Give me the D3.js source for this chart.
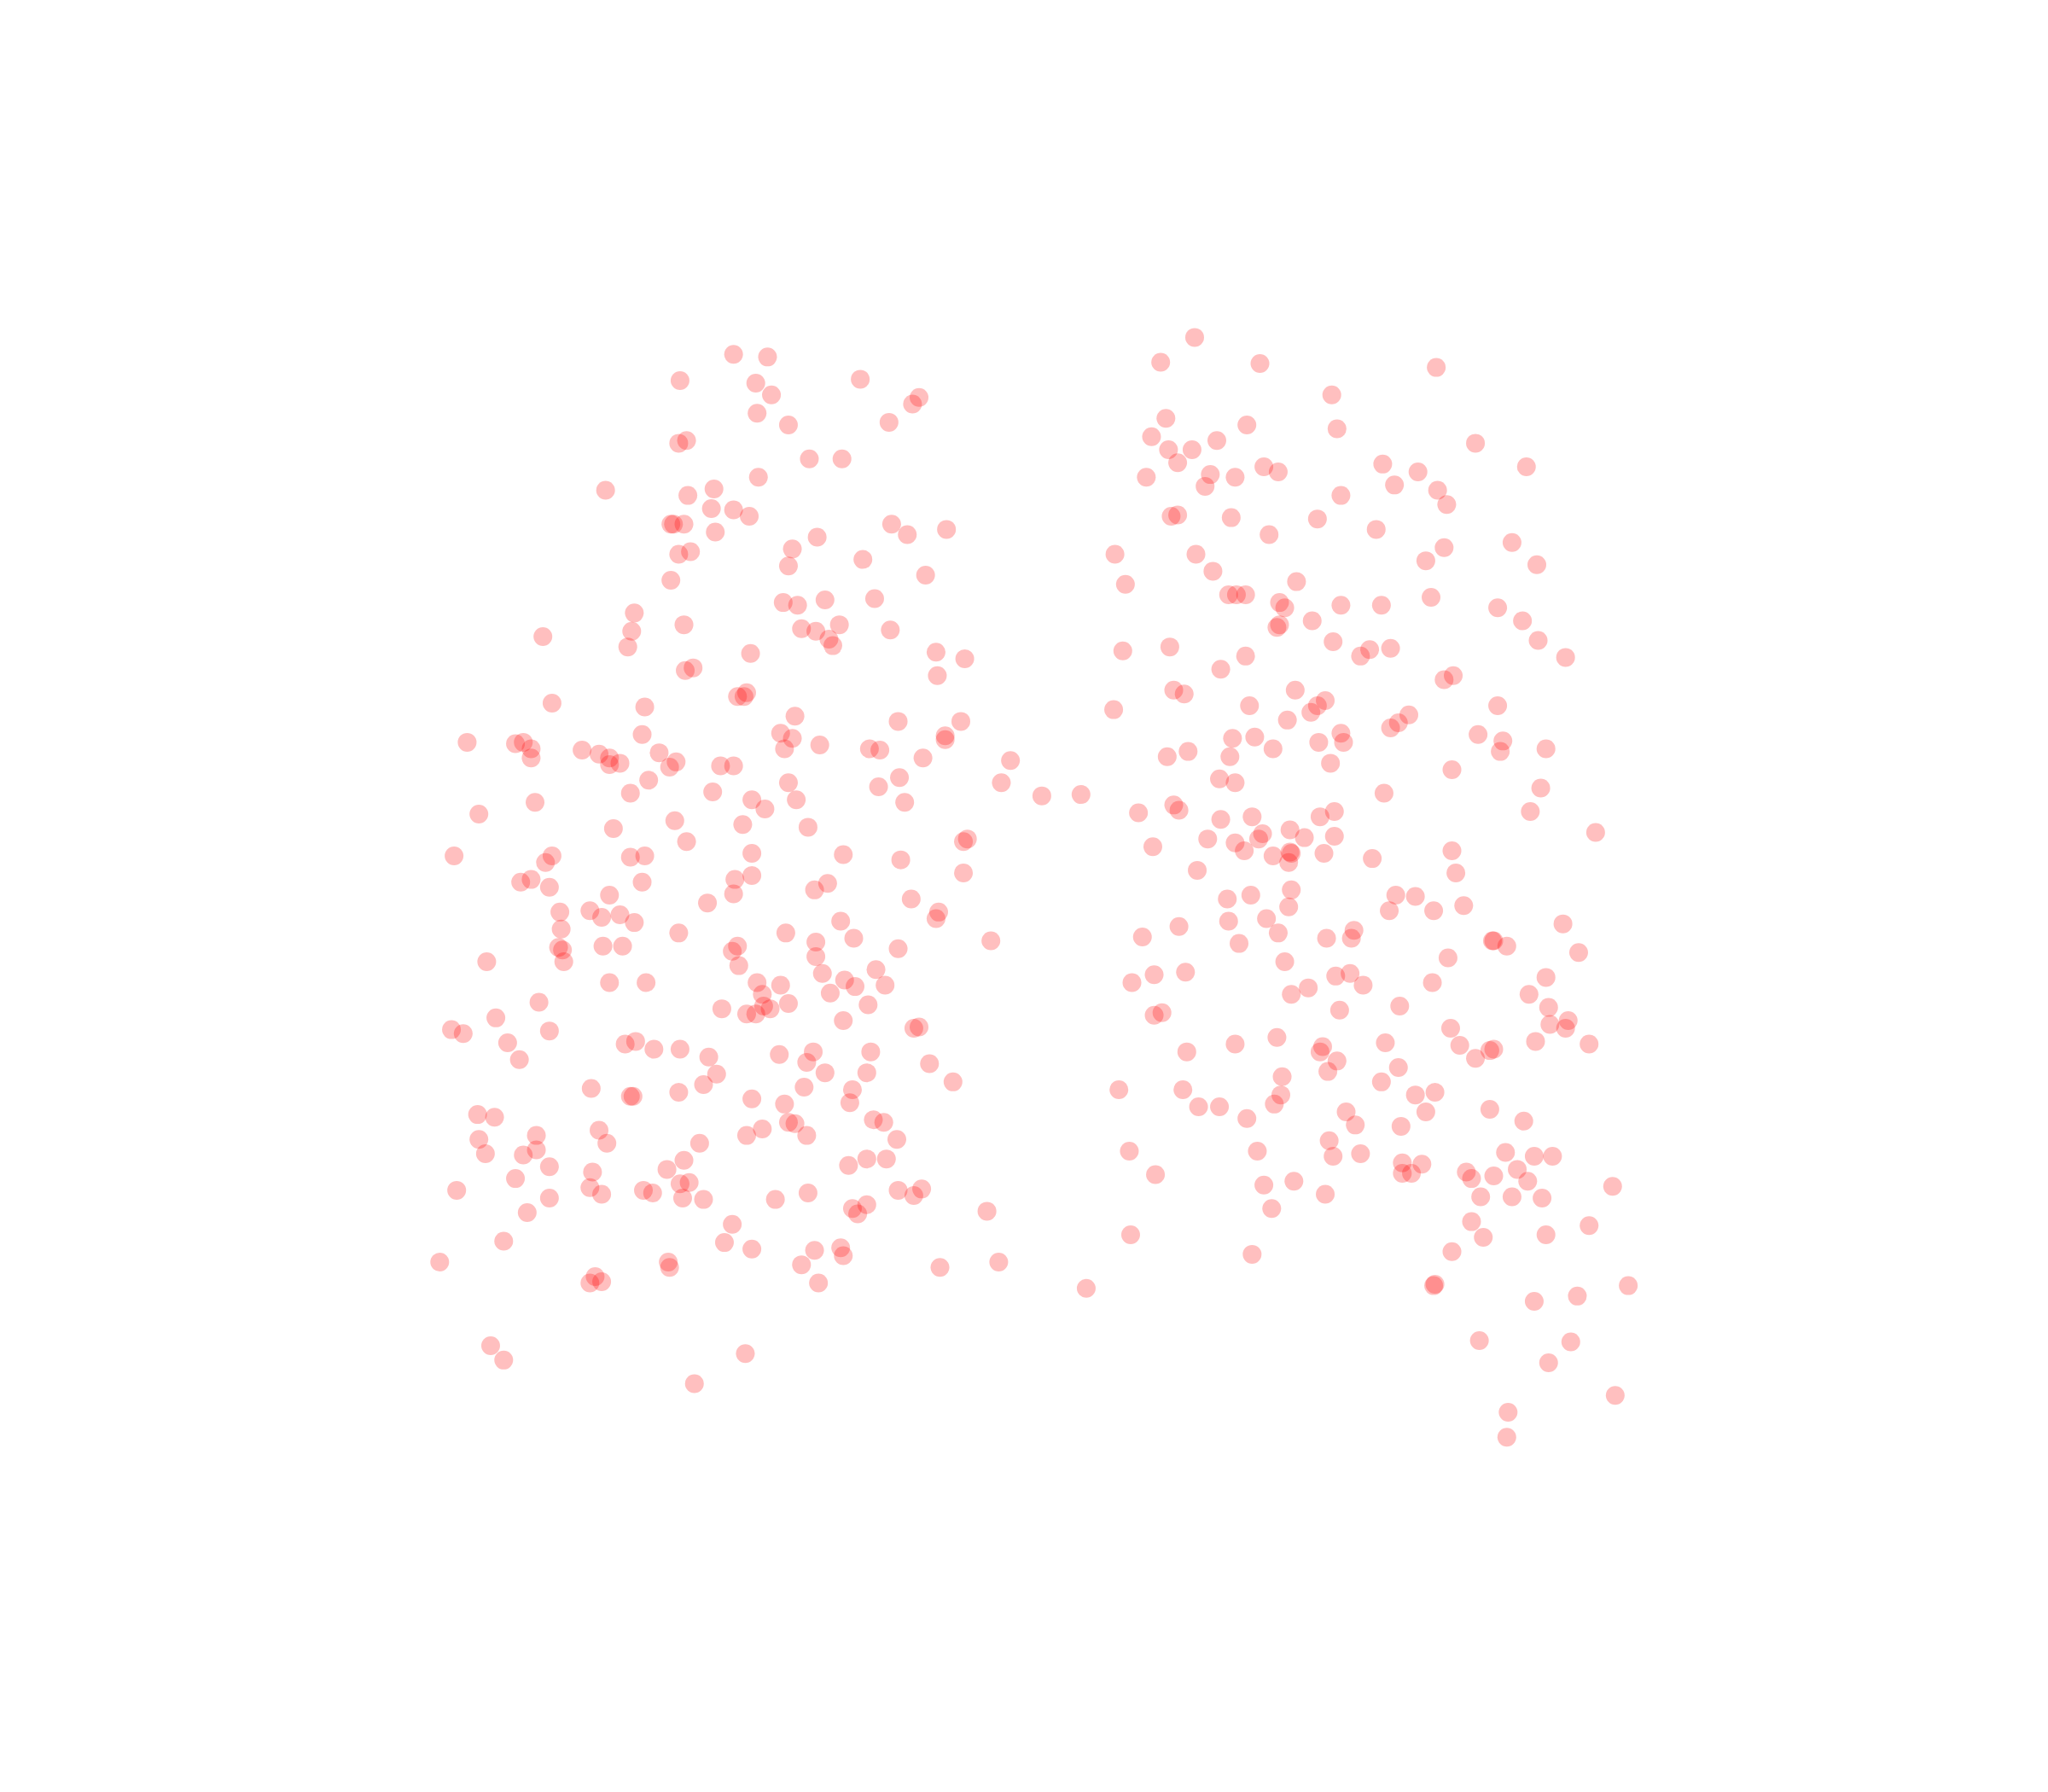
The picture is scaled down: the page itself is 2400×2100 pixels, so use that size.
<!DOCTYPE html>
<html>
<head>
<meta charset="utf-8">
<script src="https://cdn.jsdelivr.net/npm/d3@7"></script>
<style>
  html, body { margin: 0; padding: 0; background: #fff; }
  svg { display: block; }
</style>
</head>
<body>
<div id="chart"></div>
<script>
// values, in its own 1568 x 1372 units
const leftCluster = [
  [561,271],[587,273],[520,291],[578,293],[590,302],[658,290],[703,304],[698,309],[579,316],[603,325],
  [680,323],[519,339],[525,337],[619,351],[644,351],[580,365],[463,375],[526,379],[546,374],[544,389],
  [561,390],[573,395],[513,401],[515,401],[523,401],[547,407],[682,401],[694,409],[724,405],[625,411],
  [606,420],[519,424],[528,422],[603,433],[660,428],[513,444],[708,440],[599,461],[610,463],[631,459],
  [669,458],[485,469],[483,483],[523,478],[613,481],[624,483],[642,478],[634,489],[637,494],[681,482],
  [415,487],[480,495],[574,500],[716,499],[738,504],[524,513],[530,511],[717,517],[564,533],[569,533],
  [571,530],[422,538],[493,541],[608,548],[687,552],[735,552],[597,561],[606,565],[723,563],[723,566],
  [491,562],[357,568],[394,569],[400,568],[406,573],[406,580],[445,574],[458,577],[466,580],[466,585],
  [474,584],[504,576],[517,583],[512,587],[551,586],[561,586],[600,573],[627,570],[665,573],[673,574],
  [706,580],[773,582],[766,599],[797,609],[827,608],[496,597],[482,607],[545,606],[603,599],[609,612],
  [575,612],[585,619],[672,602],[688,595],[692,614],[409,614],[366,623],[516,628],[568,631],[469,634],
  [618,633],[525,644],[737,644],[740,642],[347,655],[417,660],[422,655],[482,656],[493,655],[575,653],
  [645,654],[689,658],[398,675],[406,673],[420,679],[491,675],[562,673],[575,670],[633,676],[623,681],
  [737,668],[466,685],[561,684],[541,691],[697,688],[428,698],[451,697],[460,702],[474,700],[485,706],
  [718,698],[716,703],[643,705],[429,711],[519,714],[601,714],[653,718],[758,720],[427,725],[430,727],
  [431,736],[461,724],[476,724],[564,724],[560,728],[624,721],[624,732],[687,726],[372,736],[565,739],
  [629,745],[670,742],[466,752],[494,752],[579,752],[597,754],[646,750],[654,755],[677,754],[583,761],
  [635,760],[412,767],[552,772],[584,770],[589,772],[603,768],[664,769],[571,776],[578,776],[379,779],
  [645,781],[345,788],[354,791],[420,789],[699,787],[703,786],[388,798],[478,799],[486,797],[500,803],
  [520,803],[397,811],[542,809],[596,807],[622,805],[617,813],[666,805],[711,814],[548,822],[631,821],
  [663,821],[729,828],[538,830],[452,833],[482,839],[484,839],[519,836],[615,832],[652,834],[575,841],
  [600,845],[650,844],[365,853],[378,855],[603,859],[608,860],[668,857],[676,859],[458,865],[410,869],
  [583,864],[571,869],[617,869],[366,872],[464,875],[535,875],[686,872],[371,883],[400,884],[410,880],
  [523,888],[663,887],[678,887],[649,892],[420,893],[510,895],[453,897],[394,902],[527,905],[520,906],
  [451,909],[349,911],[492,911],[499,913],[460,914],[420,917],[522,917],[538,918],[593,918],[618,913],
  [687,911],[699,915],[705,910],[403,928],[652,925],[663,922],[656,929],[755,927],[560,937],[385,950],
  [554,951],[575,956],[623,957],[643,955],[645,961],[336,966],[511,966],[512,970],[613,968],[719,970],
  [764,966],[451,982],[455,977],[460,981],[626,982],[831,986],[375,1030],[385,1041],[570,1036],[531,1059]
]

const rightCluster = [
  [914,258],[888,277],[964,278],[1099,281],[1019,302],[892,320],[954,325],[1023,328],[881,334],[931,337],
  [894,344],[912,344],[1129,339],[901,354],[967,357],[978,361],[1058,355],[1168,357],[926,363],[877,365],
  [945,365],[922,372],[1085,361],[1067,371],[1100,375],[1026,379],[1107,386],[896,395],[901,394],[942,396],
  [1008,397],[971,409],[1053,405],[1157,415],[1105,419],[853,424],[915,424],[1091,429],[1176,432],[928,437],
  [861,447],[992,445],[940,455],[946,455],[953,455],[1095,457],[979,461],[983,465],[1026,463],[1057,463],
  [1146,465],[1004,475],[979,478],[977,480],[1165,475],[1020,491],[1177,490],[895,495],[859,498],[953,502],
  [1048,497],[1041,502],[1064,496],[1198,503],[934,512],[1105,520],[1112,517],[898,528],[906,531],[991,528],
  [1014,536],[1008,540],[1003,545],[956,540],[852,543],[1146,540],[985,551],[1078,547],[1070,553],[1064,557],
  [943,565],[960,564],[1026,561],[1028,568],[1009,568],[1131,562],[1150,567],[1148,575],[1183,573],[974,573],
  [909,575],[893,579],[941,579],[1018,584],[1111,589],[933,596],[945,599],[1179,603],[1059,607],[898,616],
  [902,620],[871,622],[934,627],[958,625],[1010,625],[1021,621],[1171,621],[987,635],[966,638],[963,642],
  [924,642],[945,645],[952,651],[998,641],[1021,640],[1221,637],[882,648],[974,655],[987,652],[988,653],
  [986,660],[1013,653],[1050,657],[1111,651],[916,666],[1114,668],[988,681],[939,688],[957,685],[1068,685],
  [1083,686],[986,694],[1063,697],[1097,697],[1120,693],[940,705],[969,703],[902,709],[1196,707],[1036,712],
  [978,714],[874,717],[1015,718],[1034,718],[948,722],[1142,720],[1143,720],[1153,724],[1208,729],[1108,733],
  [983,736],[907,744],[883,746],[866,752],[1022,747],[1033,745],[1043,754],[1096,752],[1183,748],[1001,756],
  [988,761],[1170,761],[1071,770],[1025,773],[1185,771],[889,775],[883,777],[1200,781],[1186,784],[1198,787],
  [1110,787],[977,794],[945,799],[1060,798],[1117,800],[1175,797],[1216,799],[908,805],[1012,801],[1010,805],
  [1143,803],[1140,804],[1129,810],[1023,812],[1016,820],[1070,817],[981,824],[1057,828],[856,834],[905,834],
  [980,838],[1083,838],[1098,836],[975,845],[917,847],[933,847],[1140,849],[1091,851],[1030,851],[954,856],
  [1037,861],[1072,862],[1166,858],[1017,873],[864,881],[962,881],[1041,883],[1020,885],[1152,882],[1174,885],
  [1188,885],[1073,890],[1088,891],[1073,898],[1080,898],[1161,895],[1122,897],[1126,902],[1143,900],[884,899],
  [990,904],[967,907],[1169,904],[1234,908],[1014,914],[1133,916],[1157,916],[1180,917],[973,925],[1126,935],
  [1216,938],[865,945],[1135,947],[1183,945],[958,960],[1111,958],[1098,983],[1097,984],[1246,984],[1207,992],
  [1174,996],[1132,1026],[1202,1027],[1185,1043],[1236,1068],[1154,1081],[1153,1100]
]

const WIDTH = 2400
const HEIGHT = 2100

const x = d3.scaleLinear().domain([0, 1568]).range([1, WIDTH + 1])
const y = d3.scaleLinear().domain([0, 1372]).range([0.5, HEIGHT + 0.5])

const svg = d3.select('#chart').append('svg')
                               .attr('width', WIDTH)
                               .attr('height', HEIGHT)

svg.append('g')
   .selectAll('circle')
   .data(leftCluster.concat(rightCluster))
   .enter()
     .append('circle')
     .attr('cx', d => x(d[0]))
     .attr('cy', d => y(d[1]))
     .attr('r', 11)
     .attr('fill', '#ff0000')
     .attr('fill-opacity', 0.25)
</script>
</body>
</html>
